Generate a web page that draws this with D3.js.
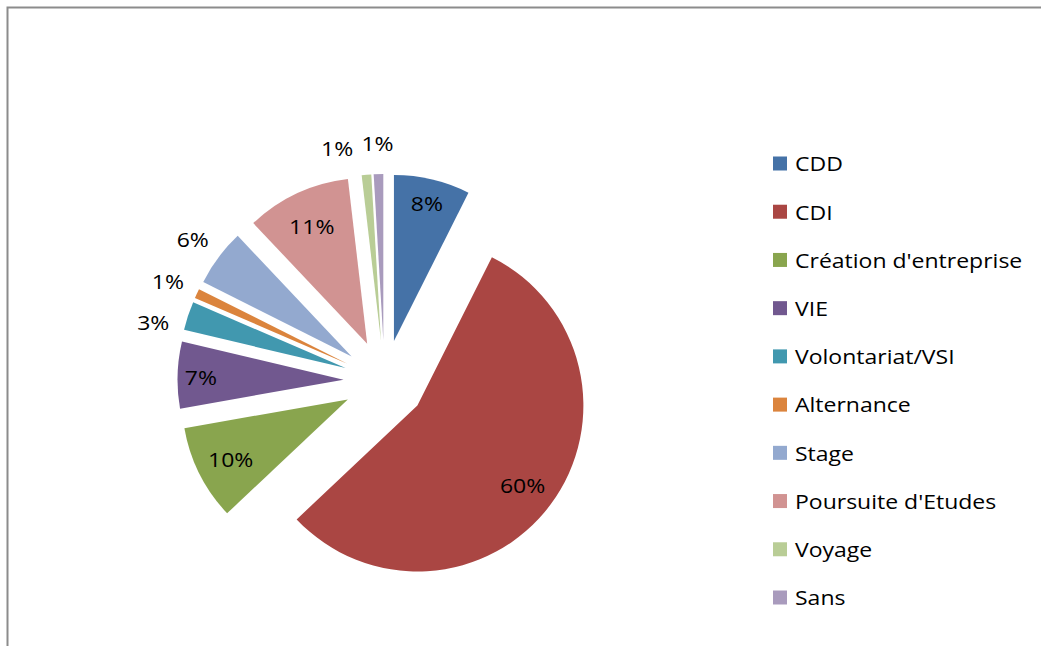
<!DOCTYPE html>
<html>
<head>
<meta charset="utf-8">
<script src="https://cdn.jsdelivr.net/npm/d3@7"></script>
<style>
  html, body { margin: 0; padding: 0; background: #fff; }
  svg { display: block; }
  text { font-family: "Open Sans", Lato, sans-serif; fill: #000; }
</style>
</head>
<body>
<svg id="chart" width="1041" height="646"></svg>
<script>
// Situation des diplômés (valeurs en %)
const categories = ["CDD", "CDI", "Création d'entreprise", "VIE", "Volontariat/VSI",
                    "Alternance", "Stage", "Poursuite d'Etudes", "Voyage", "Sans"];
const values = [8, 60, 10, 7, 3, 1, 6, 11, 1, 1];
const colors = ["#4572A7", "#AA4643", "#89A54E", "#71588F", "#4198AF",
                "#DB843D", "#93A9CF", "#D19392", "#B9CD96", "#A99BBD"];

const W = 1041, H = 646;
const svg = d3.select("#chart");

// frame
svg.append("path")
  .attr("d", `M7.5,${H + 2}V7.5H${W + 2}`)
  .attr("fill", "none")
  .attr("stroke", "#8c8c8c")
  .attr("stroke-width", 2);

const cx = 384.5, cy = 381, R = 166, explode = 41;
const data = categories.map((c, i) => ({ name: c, value: values[i], color: colors[i] }));

const pie = d3.pie().value(d => d.value).sort(null).startAngle(0).endAngle(2 * Math.PI);
const arcs = pie(data);
const arc = d3.arc().innerRadius(0).outerRadius(R);

const dir = a => [Math.sin(a), -Math.cos(a)];
arcs.forEach(a => {
  a.mid = (a.startAngle + a.endAngle) / 2;
  const [ux, uy] = dir(a.mid);
  a.ox = cx + ux * explode;
  a.oy = cy + uy * explode;
});

const g = svg.append("g");
g.selectAll("path.slice")
  .data(arcs)
  .join("path")
  .attr("class", "slice")
  .attr("transform", d => `translate(${d.ox},${d.oy})`)
  .attr("d", arc)
  .attr("fill", d => d.data.color);

// text is set slightly wide
const fontSize = 20, stretch = 1.15;

// data labels: inside for large slices, outside for small ones
const inside = arcs.filter(d => d.data.value >= 7);
const outside = arcs.filter(d => d.data.value < 7);
inside.forEach(d => {
  const [ux, uy] = dir(d.mid);
  const k = d.endAngle - d.startAngle < 0.5 ? 0.86 : 0.79;
  d.lx = d.ox + ux * R * k;
  d.ly = d.oy + uy * R * k;
});

// outside labels are placed one after another (last slice first);
// a label that collides with one already placed slides counter-clockwise
const rOut = 198, boxW = 40, boxH = 41;
const place = d => {
  const [ux, uy] = dir(d.la);
  d.lx = d.ox + ux * rOut;
  d.ly = d.oy + uy * rOut;
};
const placed = [];
outside.slice().reverse().forEach(d => {
  d.la = d.mid;
  place(d);
  const hits = () => placed.some(p => Math.abs(p.lx - d.lx) < boxW && Math.abs(p.ly - d.ly) < boxH);
  let guard = 0;
  while (hits() && guard++ < 500) {
    d.la -= 0.2 * Math.PI / 180;
    place(d);
  }
  placed.push(d);
});

g.selectAll("text.lbl")
  .data(inside.concat(outside))
  .join("text")
  .attr("class", "lbl")
  .attr("transform", d => `translate(${d.lx},${d.ly + 1}) scale(${stretch},1)`)
  .attr("text-anchor", "middle")
  .attr("dominant-baseline", "central")
  .attr("font-size", fontSize)
  .text(d => d.data.value + "%");

// legend
const legend = svg.append("g");
const ly = d3.scalePoint().domain(categories).range([163.5, 597.5]);
const items = legend.selectAll("g")
  .data(data)
  .join("g")
  .attr("transform", d => `translate(773,${ly(d.name)})`);
items.append("rect")
  .attr("x", 0).attr("y", -7)
  .attr("width", 14).attr("height", 14)
  .attr("fill", d => d.color);
items.append("text")
  .attr("transform", `translate(22,0) scale(${stretch},1)`)
  .attr("dominant-baseline", "central")
  .attr("font-size", fontSize)
  .text(d => d.name);
</script>
</body>
</html>
